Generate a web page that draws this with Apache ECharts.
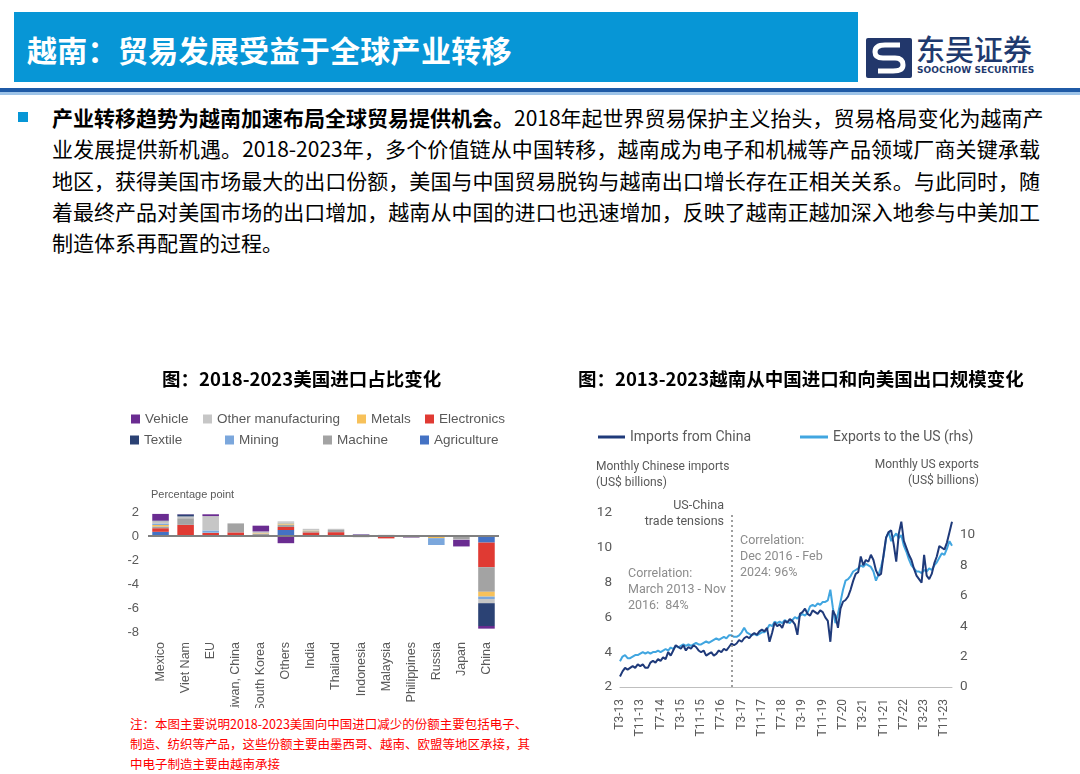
<!DOCTYPE html>
<html>
<head>
<meta charset="utf-8">
<script src="https://cdn.jsdelivr.net/npm/echarts@6/dist/echarts.min.js"></script>
<style>
  body { margin:0; width:1080px; height:774px; background:#fff; position:relative; overflow:hidden;
         font-family:"Noto Sans CJK SC", sans-serif; }
  .head { position:absolute; left:14px; top:12px; width:844px; height:70px; background:#0796d6; }
  .head span { position:absolute; left:13px; top:15px; color:#fff; font-size:30px; font-weight:bold; letter-spacing:0.3px; }
  .bar-line { position:absolute; left:0; top:88px; width:1080px; height:7px;
              background:linear-gradient(#1f5aa6 0, #1f5aa6 4px, #9dc3e8 4px, #9dc3e8 7px); }
  .logo { position:absolute; left:866px; top:38px; }
  .logo-cn { position:absolute; left:916px; top:27px; font-size:29px; color:#1f3a6e; font-weight:500; }
  .logo-en { position:absolute; left:917px; top:65px; font-size:9px; color:#1f3a6e; font-weight:bold;
             font-family:"DejaVu Sans", sans-serif; letter-spacing:0.1px; }
  .bullet { position:absolute; left:18px; top:112px; width:10px; height:10px; background:#0796d6; }
  .body { position:absolute; left:52px; top:102px; font-size:21px; line-height:31.3px; color:#000; }
  .body div { width:988px; white-space:nowrap; text-align:justify; text-align-last:justify; }
  .body div.last { text-align-last:left; }
  .note { position:absolute; left:130px; top:714px; font-size:12.5px; line-height:20px; color:#ff0000; }
  #left { position:absolute; left:125px; top:360px; width:400px; height:348px; }
  #right { position:absolute; left:560px; top:360px; width:520px; height:414px; }
</style>
</head>
<body>
<div class="head"><span>越南：贸易发展受益于全球产业转移</span></div>
<svg class="logo" width="46" height="40" viewBox="0 0 46 40">
  <rect width="46" height="40" rx="2" fill="#22376b"/>
  <path d="M34 7 L19 7 Q9 7 9 14 Q9 20 17 20 L29 20 Q37 20 37 27 Q37 33 27 33 L12 33" stroke="#fff" stroke-width="5" fill="none"/>
</svg>
<div class="logo-cn">东吴证券</div>
<div class="logo-en">SOOCHOW SECURITIES</div>
<div class="bar-line"></div>
<div class="bullet"></div>
<div class="body">
  <div><b>产业转移趋势为越南加速布局全球贸易提供机会。</b>2018年起世界贸易保护主义抬头，贸易格局变化为越南产</div>
  <div>业发展提供新机遇。2018-2023年，多个价值链从中国转移，越南成为电子和机械等产品领域厂商关键承载</div>
  <div>地区，获得美国市场最大的出口份额，美国与中国贸易脱钩与越南出口增长存在正相关关系。与此同时，随</div>
  <div>着最终产品对美国市场的出口增加，越南从中国的进口也迅速增加，反映了越南正越加深入地参与中美加工</div>
  <div class="last">制造体系再配置的过程。</div>
</div>
<div id="left"></div>
<div id="right"></div>
<div class="note">注：本图主要说明2018-2023美国向中国进口减少的份额主要包括电子、<br>制造、纺织等产品，这些份额主要由墨西哥、越南、欧盟等地区承接，其<br>中电子制造主要由越南承接</div>
<script>
// ---- left chart: change in US import share, 2018-2023 (percentage point)
var countries = ['Mexico', 'Viet Nam', 'EU', 'Taiwan, China', 'South Korea', 'Others', 'India',
  'Thailand', 'Indonesia', 'Malaysia', 'Philippines', 'Russia', 'Japan', 'China'];
var agriculture = [0.35, 0.03, 0.05, 0.02, 0, 0.5, 0.05, 0, 0, 0, 0, 0, 0, -0.55];
var electronics = [0.3, 0.9, 0.2, 0.28, 0.08, 0.25, 0.25, 0.32, 0.08, -0.2, 0, 0, 0, -2.05];
var machine = [0.15, 0.55, 0.03, 0.75, 0.1, 0.2, 0.1, 0.18, -0.1, 0.05, -0.12, 0, -0.25, -2.05];
var metals = [0.12, 0, 0, 0, 0.05, 0.1, 0.05, 0, 0, 0, 0, -0.18, 0, -0.4];
var mining = [0.12, 0, 0.18, 0, 0, 0.05, 0, 0, 0, 0, 0, -0.57, 0, -0.2];
var otherMfg = [0.2, 0.15, 1.2, 0, 0.15, 0.12, 0.15, 0.1, 0, 0.05, 0, 0, -0.07, -0.35];
var textile = [0.05, 0.17, 0, 0, 0, 0, 0, 0, 0.03, 0, 0, 0, 0, -1.9];
var vehicle = [0.55, 0.02, 0.15, 0, 0.48, -0.6, 0, 0, 0.03, 0, -0.03, 0, -0.55, -0.22];
var shareTicks = [-8, 2, 2];  // min, max, step

// ---- right chart: Vietnam imports from China / exports to US, Mar 2013 - Feb 2024
var importsChina = [
  2.6, 2.9, 3.1, 3.0, 3.1, 3.2, 3.1, 3.3, 3.2, 3.3,
  3.1, 3.1, 3.4, 3.5, 3.4, 3.6, 3.5, 3.7, 3.6, 4.0, 3.8, 4.1,
  4.4, 4.3, 4.2, 4.4, 4.1, 4.3, 4.2, 4.4, 4.3, 4.1, 4.0, 4.1,
  3.8, 3.9, 4.0, 3.8, 3.9, 4.1, 4.0, 4.2, 4.1, 4.3, 4.5, 4.4,
  4.5, 4.7, 4.6, 4.8, 4.9, 4.8, 5.0, 5.1, 5.0, 5.2, 5.3, 5.2,
  5.4, 4.6, 5.1, 5.7, 5.5, 5.6, 5.4, 5.8, 5.7, 5.9, 5.8, 5.6,
  5.0, 6.2, 6.3, 6.5, 6.2, 6.1, 6.4, 6.3, 6.2, 6.4, 6.3, 6.0,
  5.8, 4.6, 6.4, 6.1, 5.4, 6.5, 6.9, 7.0, 7.2, 7.6, 8.1, 8.5,
  8.6, 9.5, 9.0, 9.3, 9.2, 9.6, 9.3, 8.7, 8.4, 8.5, 9.6, 10.6,
  10.9, 11.0, 10.2, 9.2, 10.8, 11.5, 10.4, 10.0, 9.6, 9.3, 8.8, 8.4,
  8.2, 8.0, 9.6, 8.4, 8.2, 8.5, 9.1, 9.5, 10.1, 10.0, 9.9, 10.3,
  10.9, 11.5];
var exportsUS = [
  1.7, 2.0, 2.1, 1.9, 1.9, 2.0, 2.1, 2.1, 2.2, 2.3,
  2.2, 2.3, 2.2, 2.3, 2.3, 2.4, 2.3, 2.4, 2.5, 2.4, 2.6, 2.5,
  2.7, 2.6, 2.7, 2.8, 2.7, 2.8, 2.7, 2.8, 2.9, 2.8, 2.8, 2.9,
  3.0, 2.9, 3.0, 3.1, 3.2, 3.1, 3.2, 3.3, 3.2, 3.4, 3.4, 3.3,
  3.3, 3.4, 3.6, 3.9, 3.6, 3.5, 3.4, 3.5, 3.4, 3.5, 3.6, 3.6,
  3.8, 4.1, 4.0, 4.3, 4.2, 4.3, 4.2, 4.4, 4.3, 4.2, 4.4, 4.6,
  4.5, 4.7, 4.8, 4.7, 4.9, 5.3, 5.4, 5.3, 5.5, 5.4, 5.6, 5.6,
  5.7, 6.4, 5.2, 4.2, 4.8, 5.6, 6.4, 7.0, 7.1, 7.3, 7.6, 7.7,
  7.8, 8.0, 7.9, 8.1, 8.0, 7.9, 7.6, 7.0, 7.4, 7.9, 8.6, 9.8,
  10.2, 9.6, 9.9, 10.1, 9.8, 10.0, 9.3, 8.9, 8.4, 8.0, 7.8, 7.6,
  7.6, 7.5, 7.7, 7.6, 7.8, 7.7, 8.0, 8.2, 8.5, 8.8, 8.7, 9.1,
  9.6, 9.3];
var importTicks = [2, 12, 2];
var exportTicks = [0, 11.45, 2];

// month labels "T3-13" ... "T2-24"
var months = [];
for (var i = 0; i < importsChina.length; i++) {
  var m = (2 + i) % 12 + 1;
  var y = 13 + Math.floor((2 + i) / 12);
  months.push('T' + m + '-' + y);
}

var grey = '#595959';
var leftFont = '"Liberation Sans", Arial, sans-serif';
var rightFont = 'Roboto, "Liberation Sans", sans-serif';
var titleStyle = { fontSize: 18.5, fontWeight: 'bold', color: '#000', fontFamily: '"Noto Sans CJK SC"' };

var leftChart = echarts.init(document.getElementById('left'));
var stackSeries = [
  ['Agriculture', agriculture, '#4472c4'],
  ['Electronics', electronics, '#e03a33'],
  ['Machine', machine, '#a3a3a3'],
  ['Metals', metals, '#f7c15a'],
  ['Mining', mining, '#7ba7dc'],
  ['Other manufacturing', otherMfg, '#c6c6c6'],
  ['Textile', textile, '#2b4274'],
  ['Vehicle', vehicle, '#6a2c91']
];
var series = stackSeries.map(function (s) {
  return { name: s[0], type: 'bar', stack: 'total', data: s[1], barWidth: '66%',
           itemStyle: { color: s[2] } };
});
// zero line drawn on top of the bars
series.push({ type: 'line', data: [], z: 10, markLine: { symbol: 'none', silent: true, label: { show: false },
  lineStyle: { color: '#808080', width: 2, type: 'solid' }, data: [{ yAxis: 0 }] } });

var legendSpots = [['Vehicle', 6, 52], ['Other manufacturing', 78, 52], ['Metals', 232, 52], ['Electronics', 300, 52],
  ['Textile', 5, 73], ['Mining', 100, 73], ['Machine', 198, 73], ['Agriculture', 295, 73]];

leftChart.setOption({
  animation: false,
  title: { text: '图：2018-2023美国进口占比变化', left: 37, top: 10, padding: 0, textStyle: titleStyle },
  legend: legendSpots.map(function (l) {
    return { data: [l[0]], left: l[1], top: l[2], padding: 0, icon: 'rect', itemWidth: 9, itemHeight: 9,
             itemGap: 5, selectedMode: false,
             textStyle: { fontSize: 13.5, color: grey, fontFamily: leftFont } };
  }),
  graphic: [{ type: 'text', left: 26, top: 129, style: { text: 'Percentage point', fontSize: 11, fill: grey, fontFamily: leftFont } }],
  grid: { left: 23, top: 152, width: 351, height: 120, outerBoundsMode: 'none' },
  xAxis: { type: 'category', data: countries, axisLine: { show: false, onZero: false }, axisTick: { show: false },
           axisLabel: { rotate: 90, interval: 0, margin: 10, fontSize: 12.5, color: grey, fontFamily: leftFont } },
  yAxis: { type: 'value', min: shareTicks[0], max: shareTicks[1], interval: shareTicks[2],
           axisLine: { show: false }, axisTick: { show: false }, splitLine: { show: false },
           axisLabel: { margin: 9, fontSize: 13, color: grey, fontFamily: leftFont } },
  series: series
});

var rightChart = echarts.init(document.getElementById('right'));
var noteStyle = { fontSize: 12, fill: grey, fontFamily: rightFont };
var corrStyle = { fontSize: 12.5, fill: '#8c8c8c', fontFamily: rightFont, lineHeight: 16 };
function rtext(str, right, top, style) {
  return { type: 'text', right: right, top: top, style: Object.assign({ text: str }, style) };
}
rightChart.setOption({
  animation: false,
  title: { text: '图：2013-2023越南从中国进口和向美国出口规模变化', left: 18, top: 10, padding: 0, textStyle: titleStyle },
  legend: [
    { data: ['Imports from China'], left: 38, top: 70, padding: 0, icon: 'rect', itemWidth: 27, itemHeight: 3,
      selectedMode: false, textStyle: { fontSize: 14, color: grey, fontFamily: rightFont } },
    { data: ['Exports to the US (rhs)'], left: 240, top: 70, padding: 0, icon: 'rect', itemWidth: 28, itemHeight: 3,
      selectedMode: false, textStyle: { fontSize: 14, color: grey, fontFamily: rightFont } }
  ],
  graphic: [
    { type: 'text', left: 36, top: 99, style: { text: 'Monthly Chinese imports\n(US$ billions)', fontSize: 12, lineHeight: 16, fill: grey, fontFamily: rightFont } },
    rtext('Monthly US exports', 101, 99, noteStyle),
    rtext('(US$ billions)', 101, 115, noteStyle),
    rtext('US-China', 356, 139, { fontSize: 12.5, fill: grey, fontFamily: rightFont }),
    rtext('trade tensions', 356, 155, { fontSize: 12.5, fill: grey, fontFamily: rightFont }),
    { type: 'text', left: 68, top: 206, style: Object.assign({ text: 'Correlation:\nMarch 2013 - Nov\n2016:  84%' }, corrStyle) },
    { type: 'text', left: 180, top: 173, style: Object.assign({ text: 'Correlation:\nDec 2016 - Feb\n2024: 96%' }, corrStyle) }
  ],
  grid: { left: 60, top: 153, width: 332, height: 174, outerBoundsMode: 'none' },
  xAxis: { type: 'category', data: months, boundaryGap: false,
           axisLine: { lineStyle: { color: '#bfbfbf', width: 1 } }, axisTick: { show: false },
           axisLabel: { rotate: 90, interval: 7, margin: 12, fontSize: 12, color: grey, fontFamily: rightFont } },
  yAxis: [
    { type: 'value', min: importTicks[0], max: importTicks[1], interval: importTicks[2],
      axisLine: { show: false }, axisTick: { show: false }, splitLine: { show: false },
      axisLabel: { margin: 8, fontSize: 13.5, color: grey, fontFamily: rightFont } },
    { type: 'value', min: exportTicks[0], max: exportTicks[1], interval: exportTicks[2], position: 'right',
      axisLine: { show: false }, axisTick: { show: false }, splitLine: { show: false },
      axisLabel: { margin: 8, fontSize: 13.5, color: grey, fontFamily: rightFont,
                   formatter: function (v) { return v % 2 === 0 ? v : ''; } } }
  ],
  series: [
    { name: 'Imports from China', type: 'line', data: importsChina, yAxisIndex: 0, symbol: 'none',
      lineStyle: { color: '#1f3a7a', width: 2 }, itemStyle: { color: '#1f3a7a' }, z: 3,
      markLine: { symbol: 'none', silent: true, label: { show: false },
                  lineStyle: { color: '#7f7f7f', width: 1.5, type: [2, 3] }, data: [{ xAxis: 'T11-16' }] } },
    { name: 'Exports to the US (rhs)', type: 'line', data: exportsUS, yAxisIndex: 1, symbol: 'none',
      lineStyle: { color: '#41a6e0', width: 2 }, itemStyle: { color: '#41a6e0' }, z: 2 }
  ]
});
</script>
</body>
</html>
